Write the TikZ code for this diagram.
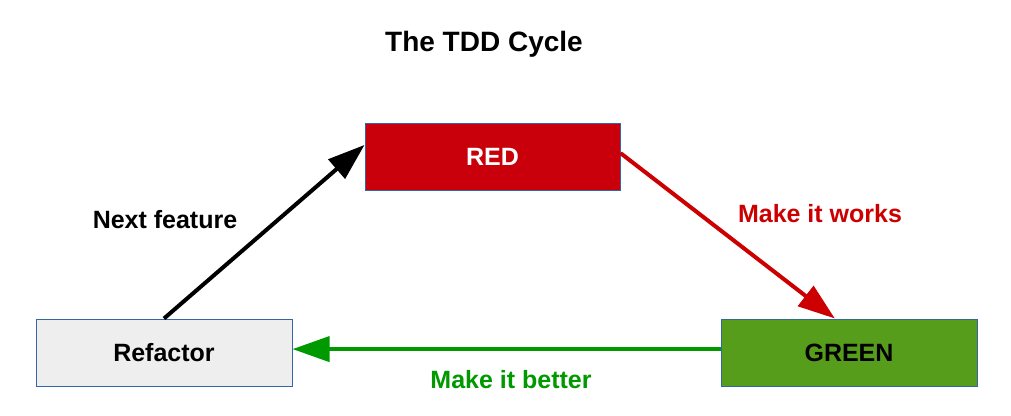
\documentclass[tikz,border=0pt]{standalone}
\usepackage{fontspec}
\setmainfont{Liberation Sans}
\usetikzlibrary{arrows.meta,calc}
\definecolor{boxred}{RGB}{201,0,11}
\definecolor{linered}{RGB}{204,0,0}
\definecolor{boxgreen}{RGB}{87,157,28}
\definecolor{linegreen}{RGB}{0,153,0}
\definecolor{boxgray}{RGB}{238,238,238}
\definecolor{edgeblue}{RGB}{52,101,164}
\begin{document}
\begin{tikzpicture}[x=1pt,y=-1pt,
  stagebox/.style={draw=edgeblue,line width=1pt,minimum width=256pt,minimum height=67pt,inner sep=0pt,font=\fontsize{25}{30}\selectfont\bfseries},
  lbl/.style={font=\fontsize{25}{30}\selectfont\bfseries,inner sep=0pt},
  bigarrow/.style={line width=4pt,-{Triangle[length=37pt,width=25pt]}}]
\useasboundingbox (0,0) rectangle (1011,415);
\node[font=\fontsize{28}{34}\selectfont\bfseries,inner sep=0pt] (title) at (484,44) {The TDD Cycle};
\node[stagebox,fill=boxred,text=white,minimum width=255pt] (red) at (492.5,156.5) {RED};
\node[stagebox,fill=boxgray,text=black] (refactor) at (164,352.5) {Refactor};
\node[stagebox,fill=boxgreen,text=black] (green) at (849,352.5) {GREEN};
\draw[bigarrow,black] (refactor.north) -- ($(red.north west)!0.33!(red.south west)$);
\draw[bigarrow,linered] ($(red.north east)!0.45!(red.south east)$) -- ($(green.north west)!0.445!(green.north east)$);
\draw[bigarrow,linegreen] ($(green.north west)!0.45!(green.south west)$) -- ($(refactor.north east)!0.45!(refactor.south east)$);
\node[lbl,text=black] (lnext) at (165,220) {Next feature};
\node[lbl,text=linered] (lworks) at (820,214) {Make it works};
\node[lbl,text=linegreen] (lbetter) at (511,380) {Make it better};
\end{tikzpicture}
\end{document}
